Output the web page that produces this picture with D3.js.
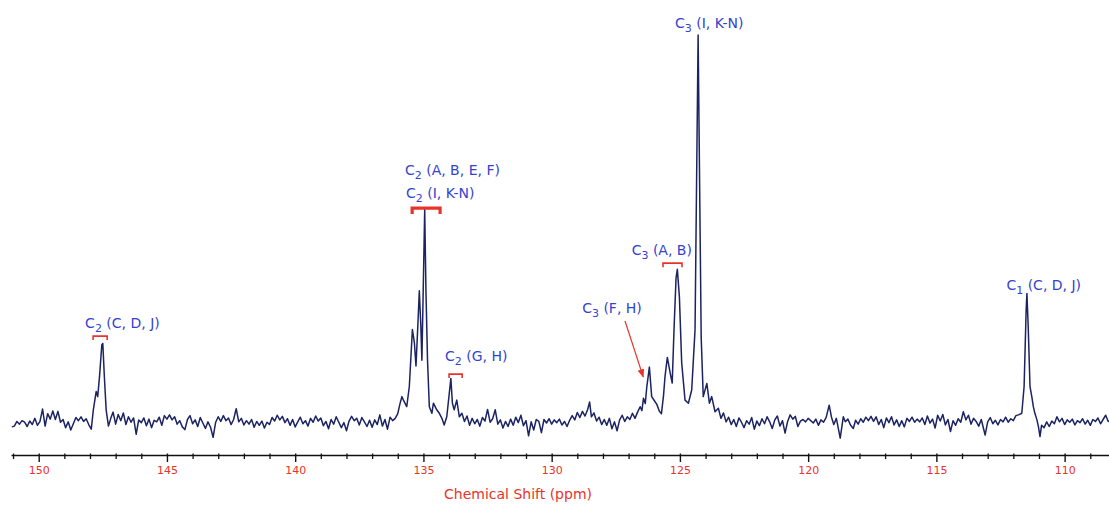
<!DOCTYPE html>
<html><head><meta charset="utf-8">
<script src="https://cdn.jsdelivr.net/npm/d3@7"></script>
<style>
html,body{margin:0;padding:0;background:#fff;}
svg{display:block;}
text{font-family:"DejaVu Sans",Verdana,sans-serif;}
</style></head>
<body>
<svg id="chart" width="1109" height="507"></svg>
<script>
// ---- data (ppm, relative intensity) ----
const spectrumPoints = [
[151.05,-1.0],[150.95,-0.8],[150.85,0.4],[150.75,-0.3],[150.65,0.6],[150.55,0.2],[150.45,-0.9],[150.35,0.5],[150.25,-0.4],[150.15,1.2],
[150.05,-0.6],[149.95,0.4],[149.85,3.6],[149.75,-0.8],[149.65,2.4],[149.55,1.0],[149.45,3.1],[149.35,0.9],[149.25,3.0],[149.15,0.2],
[149.05,0.9],[148.95,-1.2],[148.85,0.3],[148.75,-1.8],[148.65,-0.2],[148.55,1.4],[148.45,0.6],[148.35,1.6],[148.25,0.4],[148.15,1.1],
[148.05,-0.4],[147.95,-1.6],[147.87,3.4],[147.76,8.1],[147.70,6.8],[147.63,11.9],[147.54,20.1],[147.50,20.5],[147.44,11.9],[147.37,3.4],
[147.28,-0.8],[147.19,1.2],[147.10,2.8],[147.00,-0.3],[146.90,2.2],[146.80,0.6],[146.70,2.6],[146.60,-0.4],[146.50,1.6],[146.40,0.2],
[146.30,1.3],[146.20,-2.9],[146.10,0.8],[146.00,0.1],[145.90,1.3],[145.80,-0.7],[145.70,1.0],[145.60,-1.2],[145.50,0.7],[145.40,0.3],
[145.30,1.5],[145.20,-0.6],[145.10,1.9],[145.00,1.0],[144.90,2.1],[144.80,0.8],[144.70,1.6],[144.60,-0.3],[144.50,0.6],[144.40,-1.0],
[144.30,-1.7],[144.20,0.9],[144.10,1.9],[144.00,-0.2],[143.90,0.8],[143.80,-0.9],[143.70,1.4],[143.60,0.0],[143.50,-1.4],[143.40,0.3],
[143.30,-1.1],[143.20,-3.7],[143.10,0.2],[143.00,1.6],[142.90,0.4],[142.80,1.9],[142.70,0.6],[142.60,1.3],[142.50,-0.4],[142.40,0.9],
[142.30,3.7],[142.20,0.3],[142.10,1.2],[142.00,-0.5],[141.90,0.6],[141.80,-0.3],[141.70,0.9],[141.60,-1.1],[141.50,0.4],[141.40,-0.6],
[141.30,0.5],[141.20,-1.3],[141.10,0.2],[141.00,-0.4],[140.90,1.4],[140.80,0.5],[140.70,2.0],[140.60,0.8],[140.50,1.7],[140.40,0.1],
[140.30,1.1],[140.20,-0.6],[140.10,0.9],[140.00,-1.0],[139.90,0.3],[139.80,1.5],[139.70,-0.2],[139.60,0.6],[139.50,-0.8],[139.40,1.2],
[139.30,0.2],[139.20,1.8],[139.10,0.5],[139.00,1.3],[138.90,-0.7],[138.80,0.4],[138.70,-1.5],[138.60,0.9],[138.50,-0.3],[138.40,1.6],
[138.30,0.2],[138.20,-1.2],[138.10,0.1],[138.00,-2.0],[137.90,0.5],[137.80,1.7],[137.70,0.6],[137.60,1.2],[137.50,-0.5],[137.40,1.4],
[137.30,0.3],[137.20,-0.9],[137.10,0.7],[137.00,-1.1],[136.90,0.8],[136.80,-0.4],[136.70,2.1],[136.60,-0.8],[136.50,0.9],[136.40,-1.6],
[136.30,1.5],[136.20,0.6],[136.10,1.2],[136.00,2.4],[135.92,4.8],[135.84,6.8],[135.78,5.9],[135.65,4.2],[135.55,9.4],[135.43,24.1],
[135.35,20.5],[135.29,14.7],[135.22,24.8],[135.16,34.1],[135.10,24.8],[135.06,16.2],[135.01,33.5],[134.95,55.0],[134.90,33.5],[134.84,16.2],
[134.77,4.2],[134.67,2.5],[134.61,5.1],[134.48,3.4],[134.38,2.5],[134.28,1.2],[134.19,-0.5],[134.09,1.6],[134.02,5.9],[133.93,11.5],
[133.87,5.1],[133.80,3.4],[133.70,5.9],[133.60,1.6],[133.50,2.5],[133.40,0.4],[133.30,1.8],[133.20,-0.6],[133.10,1.2],[133.00,-0.2],
[132.90,0.9],[132.80,-0.8],[132.70,1.4],[132.60,0.5],[132.50,3.5],[132.40,0.2],[132.30,1.1],[132.20,3.4],[132.10,-0.3],[132.00,0.8],
[131.90,-1.3],[131.80,0.4],[131.70,-0.9],[131.60,1.0],[131.50,-0.6],[131.40,1.5],[131.30,0.1],[131.20,2.0],[131.10,-0.7],[131.00,0.6],
[130.90,-3.3],[130.80,0.3],[130.70,-1.8],[130.60,0.9],[130.50,0.4],[130.40,-2.5],[130.30,0.9],[130.20,0.0],[130.10,1.1],[130.00,-0.3],
[129.90,0.8],[129.80,0.1],[129.70,1.0],[129.60,-0.5],[129.50,0.4],[129.40,-0.9],[129.30,0.7],[129.20,1.9],[129.10,0.8],[129.00,2.7],
[128.90,1.4],[128.80,3.0],[128.70,1.8],[128.60,3.4],[128.52,5.4],[128.45,1.6],[128.35,2.6],[128.25,0.5],[128.15,1.5],[128.05,-0.4],
[127.95,0.9],[127.85,-0.6],[127.75,1.2],[127.65,-1.5],[127.55,0.3],[127.45,-2.0],[127.35,0.8],[127.25,2.0],[127.15,0.4],[127.05,1.6],
[126.95,0.9],[126.85,2.5],[126.75,1.2],[126.65,2.8],[126.55,4.2],[126.48,3.2],[126.42,6.4],[126.35,5.0],[126.29,9.4],[126.19,14.4],
[126.10,6.8],[126.00,5.8],[125.90,4.8],[125.80,3.0],[125.72,2.4],[125.64,7.0],[125.58,12.0],[125.49,16.9],[125.38,12.9],[125.30,10.3],
[125.23,24.0],[125.15,37.4],[125.10,39.6],[125.02,32.5],[124.93,15.5],[124.80,5.9],[124.67,5.1],[124.54,8.5],[124.41,24.0],[124.29,100.0],
[124.17,22.0],[124.09,6.8],[123.95,10.2],[123.85,5.1],[123.76,6.8],[123.63,2.9],[123.50,3.8],[123.40,1.2],[123.30,2.6],[123.20,0.3],
[123.10,1.5],[123.00,-0.4],[122.90,0.9],[122.80,-0.9],[122.70,1.3],[122.60,0.2],[122.50,-1.2],[122.40,0.6],[122.30,-0.3],[122.20,1.4],
[122.10,-1.6],[122.00,0.5],[121.90,-0.7],[121.80,1.1],[121.70,-0.2],[121.60,1.6],[121.50,0.3],[121.40,-1.4],[121.30,0.8],[121.20,1.8],
[121.10,-0.8],[121.00,0.6],[120.90,-2.6],[120.80,0.4],[120.70,2.1],[120.60,1.0],[120.50,1.7],[120.40,-0.9],[120.30,0.5],[120.20,0.9],
[120.10,0.3],[120.00,1.2],[119.90,0.6],[119.80,0.0],[119.70,1.0],[119.60,-0.6],[119.50,0.8],[119.40,0.2],[119.30,1.4],[119.18,4.6],
[119.09,1.5],[119.00,-0.4],[118.90,1.2],[118.75,-3.9],[118.63,1.6],[118.55,0.3],[118.45,1.0],[118.35,-0.5],[118.24,-1.4],[118.15,0.7],
[118.05,-0.3],[117.95,1.1],[117.85,0.2],[117.75,1.5],[117.65,0.6],[117.55,1.7],[117.45,0.4],[117.35,1.6],[117.25,-0.4],[117.15,0.9],
[117.05,-1.2],[116.95,1.3],[116.85,0.1],[116.75,1.6],[116.65,-0.5],[116.55,0.8],[116.45,-0.9],[116.35,0.6],[116.25,-1.0],[116.15,1.2],
[116.05,0.4],[115.95,1.5],[115.85,0.2],[115.75,1.0],[115.65,0.3],[115.55,1.3],[115.45,-0.4],[115.35,1.8],[115.25,0.0],[115.15,1.0],
[115.05,-1.3],[114.95,2.0],[114.85,0.5],[114.75,2.2],[114.65,-0.5],[114.55,0.9],[114.45,-2.2],[114.35,0.6],[114.25,-0.6],[114.15,1.1],
[114.05,0.2],[113.95,2.9],[113.85,0.8],[113.75,2.0],[113.65,-0.3],[113.55,1.2],[113.45,0.4],[113.35,-0.8],[113.25,0.9],[113.10,-3.1],
[113.00,0.3],[112.90,1.4],[112.80,-0.2],[112.70,0.7],[112.60,-0.5],[112.50,0.9],[112.40,0.3],[112.30,1.5],[112.20,0.2],[112.10,1.1],
[112.00,0.6],[111.90,1.9],[111.80,2.1],[111.67,2.5],[111.58,9.4],[111.50,29.1],[111.47,33.4],[111.42,24.8],[111.35,9.4],[111.28,6.8],
[111.22,4.2],[111.16,2.5],[111.08,0.8],[111.02,-1.0],[110.96,-3.5],[110.90,-0.6],[110.80,-1.2],[110.70,0.3],[110.60,-0.9],[110.50,0.5],
[110.40,-0.2],[110.30,1.6],[110.20,0.3],[110.10,1.2],[110.00,-0.4],[109.90,0.8],[109.80,0.2],[109.70,1.0],[109.60,-0.5],[109.50,0.6],
[109.40,0.1],[109.30,1.1],[109.20,-0.3],[109.10,0.7],[109.00,-0.6],[108.90,0.9],[108.80,0.4],[108.70,1.3],[108.60,-0.2],[108.50,0.9],
[108.40,2.0],[108.30,0.4],[108.27,0.5]
];

const shiftDomain = [151.08, 108.27];
const majorTicks = [150, 145, 140, 135, 130, 125, 120, 115, 110];
const minorTicks = [151,149,148,147,146,144,143,142,141,139,138,137,136,134,133,132,131,129,128,127,126,124,123,122,121,119,118,117,116,114,113,112,111,109];
const axisTitle = "Chemical Shift (ppm)";

// annotation labels: element, subscript, group text, left-edge shift (ppm), baseline height (intensity)
const labelElement = ["C","C","C","C","C","C","C","C"];
const labelSub     = ["2","2","2","2","3","3","3","1"];
const labelGroups  = ["(C, D, J)","(A, B, E, F)","(I, K-N)","(G, H)","(F, H)","(A, B)","(I, K-N)","(C, D, J)"];
const labelShift   = [148.19, 135.72, 135.68, 134.16, 128.81, 126.88, 125.19, 112.27];
const labelHeight  = [24.5, 63.9, 58.0, 16.0, 28.4, 43.3, 101.8, 34.3];

// brackets: from/to shift (ppm), height (intensity), heavy flag
const bracketFrom   = [147.88, 135.44, 134.00, 125.66];
const bracketTo     = [147.33, 134.35, 133.49, 124.92];
const bracketHeight = [22.4, 55.4, 12.6, 41.2];
const bracketHeavy  = [false, true, false, false];

// arrow for C3 (F, H): start and end (ppm, intensity)
const arrowFrom = [127.14, 26.3];
const arrowTo   = [126.43, 11.9];

// ---- drawing ----
const svg = d3.select("#chart");
const BLUE = "#3443cf", RED = "#e8332a", LINE = "#1b2363";

const x = d3.scaleLinear().domain(shiftDomain).range([11, 1109]);
const y = d3.scaleLinear().domain([0, 100]).range([423, 35]);
const axisY = 455;

// spectrum
const line = d3.line().x(d => x(d[0])).y(d => y(d[1])).curve(d3.curveLinear);
svg.append("path").datum(spectrumPoints)
  .attr("d", line).attr("fill", "none")
  .attr("stroke", LINE).attr("stroke-width", 1.5).attr("stroke-linejoin", "round");

// axis
const gAxis = svg.append("g").attr("transform", `translate(0,${axisY})`);
gAxis.call(d3.axisBottom(x).tickValues(majorTicks).tickSize(7).tickSizeOuter(0).tickFormat(d3.format("d")).tickPadding(4));
gAxis.select(".domain").attr("stroke", "#111").attr("stroke-width", 1.6);
gAxis.selectAll(".tick line").attr("stroke", "#111").attr("stroke-width", 1.4).attr("y1", -1.5);
gAxis.selectAll(".tick text").attr("fill", RED).attr("font-size", 11).attr("font-family", "DejaVu Sans, sans-serif");
const gMinor = svg.append("g").attr("transform", `translate(0,${axisY})`);
gMinor.call(d3.axisBottom(x).tickValues(minorTicks).tickSize(4).tickSizeOuter(0).tickFormat(""));
gMinor.select(".domain").remove();
gMinor.selectAll(".tick line").attr("stroke", "#111").attr("stroke-width", 1.3).attr("y1", -1.5);

svg.append("text").attr("x", 518).attr("y", 499).attr("text-anchor", "middle")
  .attr("fill", RED).attr("font-size", 14).text(axisTitle);

// labels
labelElement.forEach((el, i) => {
  const t = svg.append("text").attr("x", x(labelShift[i])).attr("y", y(labelHeight[i]))
    .attr("fill", BLUE).attr("font-size", 14);
  t.append("tspan").text(el);
  t.append("tspan").attr("font-size", 11).attr("dy", 4).text(labelSub[i]);
  t.append("tspan").attr("dy", -4).text(" " + labelGroups[i]);
});

// brackets
bracketFrom.forEach((f, i) => {
  const x0 = x(f), x1 = x(bracketTo[i]), yy = y(bracketHeight[i]);
  const leg = bracketHeavy[i] ? 6 : 4;
  svg.append("path")
    .attr("d", `M${x0},${yy + leg}V${yy}H${x1}V${yy + leg}`)
    .attr("fill", "none").attr("stroke", RED)
    .attr("stroke-width", bracketHeavy[i] ? 3.2 : 1.6);
});

// arrow
svg.append("defs").append("marker").attr("id", "ah")
  .attr("viewBox", "0 0 10 10").attr("refX", 9).attr("refY", 5)
  .attr("markerWidth", 7).attr("markerHeight", 7).attr("orient", "auto")
  .append("path").attr("d", "M0,1L10,5L0,9Z").attr("fill", RED);
svg.append("line")
  .attr("x1", x(arrowFrom[0])).attr("y1", y(arrowFrom[1]))
  .attr("x2", x(arrowTo[0])).attr("y2", y(arrowTo[1]))
  .attr("stroke", RED).attr("stroke-width", 1.2).attr("marker-end", "url(#ah)");
</script>
</body></html>
